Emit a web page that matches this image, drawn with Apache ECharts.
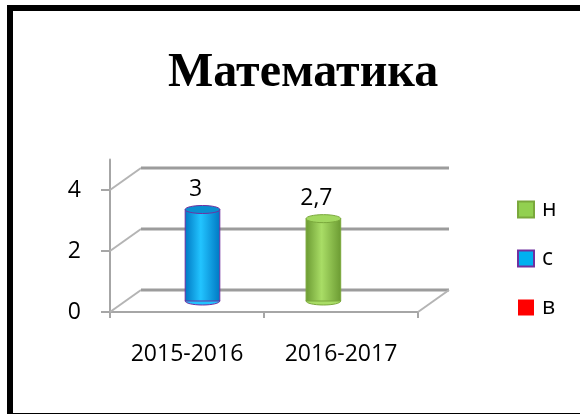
<!DOCTYPE html>
<html>
<head>
<meta charset="utf-8">
<script src="https://cdn.jsdelivr.net/npm/echarts@6/dist/echarts.min.js"></script>
<style>
  html, body { margin: 0; padding: 0; background: #fff; }
  #chart { width: 580px; height: 414px; }
</style>
</head>
<body>
<div id="chart"></div>
<script>
// данные диаграммы
var years = ['2015-2016', '2016-2017'];
var seriesNames = ['н', 'с', 'в'];
var valuesN = [null, 2.7];
var valuesS = [3, null];
var valuesV = [null, null];
var yTicks = [0, 2, 4];

var colorN = { edge: '#6b9a32', mid: '#a9dd66', top: '#a2d860', border: '#7aa83c', legend: '#92d050' };
var colorS = { edge: '#0077c2', mid: '#22c4ff', top: '#0a8fd0', border: '#7030a0', legend: '#00b0f0' };
var colorV = { edge: '#c00000', mid: '#ff3030', top: '#ff0000', border: '#c00000', legend: '#ff0000' };

var DEPTH = [31, -22]; // смещение задней стенки
var FONT = '"Open Sans", "DejaVu Sans", sans-serif';
var FS = 23;

var chart = echarts.init(document.getElementById('chart'));

function toData(arr) {
  return arr.map(function (v, i) { return [i, v]; });
}

// стенки и пол (псевдо-3D)
function renderWall(params, api) {
  var cs = params.coordSys;
  var v = api.value(1);
  var y = api.coord([0, v])[1];
  var x0 = cs.x, x1 = cs.x + cs.width;
  var children = [
    { type: 'line', shape: { x1: x0 - 9, y1: y, x2: x0, y2: y },
      style: { stroke: '#a6a6a6', lineWidth: 2 } },
    { type: 'line', shape: { x1: x0, y1: y, x2: x0 + DEPTH[0], y2: y + DEPTH[1] },
      style: { stroke: '#b4b4b4', lineWidth: 2 } },
    { type: 'line', shape: { x1: x0 + DEPTH[0], y1: y + DEPTH[1], x2: x1 + DEPTH[0], y2: y + DEPTH[1] },
      style: { stroke: '#9c9c9c', lineWidth: 3 } }
  ];
  if (v === 0) {
    children.push({ type: 'line', shape: { x1: x1, y1: y, x2: x1 + DEPTH[0], y2: y + DEPTH[1] },
      style: { stroke: '#b4b4b4', lineWidth: 2 } });
  }
  return { type: 'group', children: children };
}

function makeCylinder(idx, col) {
  return function (params, api) {
    var cat = api.value(0), v = api.value(1);
    if (v == null || isNaN(v)) return null;
    var band = api.size([1, 0])[0];
    var w = band * 0.225;
    var step = band * 0.215;
    var top = api.coord([cat, v]);
    var base = api.coord([cat, 0]);
    var cx = top[0] + (idx - 1) * step + DEPTH[0] / 2;
    var ty = top[1] + DEPTH[1] / 2;
    var by = base[1] + DEPTH[1] / 2;
    var ry = 4;
    var grad = new echarts.graphic.LinearGradient(0, 0, 1, 0, [
      { offset: 0, color: col.edge },
      { offset: 0.45, color: col.mid },
      { offset: 1, color: col.edge }
    ]);
    var label = String(v).replace('.', ',');
    return {
      type: 'group',
      children: [
        { type: 'ellipse', shape: { cx: cx, cy: by, rx: w / 2, ry: ry },
          style: { fill: col.mid, stroke: col.border, lineWidth: 1 } },
        { type: 'rect', shape: { x: cx - w / 2, y: ty, width: w, height: by - ty },
          style: { fill: grad, stroke: col.border, lineWidth: 1 } },
        { type: 'ellipse', shape: { cx: cx, cy: ty, rx: w / 2, ry: ry },
          style: { fill: col.top, stroke: col.border, lineWidth: 1 } },
        { type: 'text', x: cx - 7, y: ty - 9,
          style: { text: label, fill: '#000', font: FS + 'px ' + FONT, align: 'center', verticalAlign: 'bottom' } }
      ]
    };
  };
}

function legendItem(name, col, border) {
  return { name: name, icon: 'rect',
    itemStyle: { color: col.legend, borderColor: border ? col.border : col.legend, borderWidth: border ? 2 : 0 } };
}

var option = {
  animation: false,
  backgroundColor: '#fff',
  title: {
    text: 'Математика',
    left: 163,
    top: 45,
    textStyle: { fontFamily: '"Liberation Serif", "Times New Roman", serif', fontWeight: 'bold', fontSize: 48, color: '#000' }
  },
  graphic: [{
    type: 'rect', shape: { x: 10, y: 8, width: 600, height: 408 },
    style: { fill: 'none', stroke: '#000', lineWidth: 6 }, z: 100
  }],
  legend: {
    orient: 'vertical',
    left: 512,
    top: 193,
    itemWidth: 16,
    itemHeight: 16,
    itemGap: 26,
    selectedMode: false,
    textStyle: { fontFamily: FONT, fontSize: FS, color: '#000', padding: [8, 0, 0, 3] },
    data: [legendItem(seriesNames[0], colorN, true), legendItem(seriesNames[1], colorS, true), legendItem(seriesNames[2], colorV, false)]
  },
  grid: { left: 110, right: 162, top: 159.5, bottom: 102 },
  xAxis: {
    type: 'category',
    data: years,
    axisLine: { lineStyle: { color: '#a6a6a6', width: 2 } },
    axisTick: { show: true, length: 6, lineStyle: { color: '#a6a6a6', width: 2 } },
    axisLabel: { margin: 31, fontFamily: FONT, fontSize: FS, color: '#000' },
    splitLine: { show: false }
  },
  yAxis: {
    type: 'value',
    min: 0,
    max: 5,
    interval: 2,
    axisLine: { show: true, lineStyle: { color: '#a6a6a6', width: 2 } },
    axisTick: { show: false },
    axisLabel: {
      margin: 29, fontFamily: FONT, fontSize: FS, color: '#000',
      formatter: function (v) { return yTicks.indexOf(v) >= 0 ? String(v) : ''; }
    },
    splitLine: { show: false }
  },
  series: [
    { type: 'custom', name: 'wall', renderItem: renderWall, z: 1, silent: true,
      data: yTicks.map(function (v) { return [0, v]; }) },
    { type: 'custom', name: seriesNames[0], renderItem: makeCylinder(0, colorN), z: 5,
      itemStyle: { color: colorN.legend }, data: toData(valuesN) },
    { type: 'custom', name: seriesNames[1], renderItem: makeCylinder(1, colorS), z: 5,
      itemStyle: { color: colorS.legend }, data: toData(valuesS) },
    { type: 'custom', name: seriesNames[2], renderItem: makeCylinder(2, colorV), z: 5,
      itemStyle: { color: colorV.legend }, data: toData(valuesV) }
  ]
};

chart.setOption(option);
</script>
</body>
</html>
